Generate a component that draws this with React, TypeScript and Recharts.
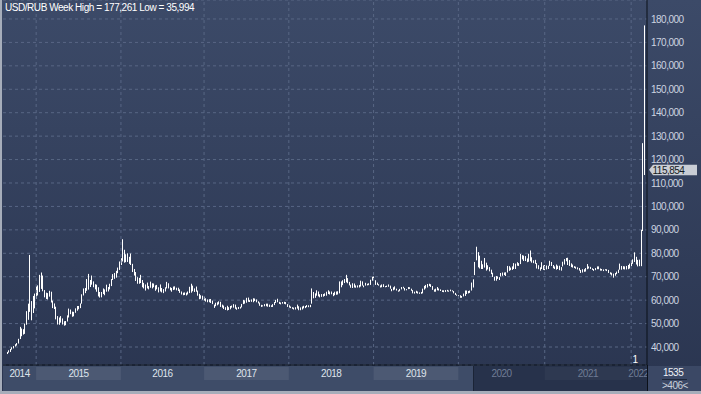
import { Bar, BarChart, CartesianGrid, ReferenceLine, XAxis, YAxis } from "recharts";

// weekly USD/RUB bars as [low, high], one array per calendar year
const w2014 = [
  [37.0, 37.9], [37.6, 38.6], [37.9, 39.2], [38.9, 39.9], [39.4, 40.4], [40.2, 41.2], [40.6, 41.7], [41.5, 43.5],
  [43.4, 48.6], [44.6, 47.9], [45.3, 47.6], [45.6, 50.0], [49.5, 55.3], [51.6, 58.5], [55.0, 79.3], [51.4, 59.6],
  [54.5, 61.8],
];
const w2015 = [
  [56.5, 62.8], [60.5, 66.0], [62.0, 66.3], [63.5, 70.8], [64.8, 71.8], [63.8, 70.5], [61.2, 64.3], [60.5, 63.2],
  [60.3, 63.0], [61.5, 64.0], [59.0, 63.6], [56.6, 59.8], [56.2, 58.6], [51.8, 57.2], [49.6, 53.2], [49.5, 52.6],
  [50.4, 53.2], [49.6, 52.2], [49.1, 51.0], [49.3, 51.1], [50.9, 53.5], [52.6, 56.4], [54.0, 56.0], [52.9, 55.1],
  [53.1, 55.0], [54.6, 56.5], [55.5, 57.5], [56.1, 57.5], [56.6, 58.6], [58.5, 62.5], [62.0, 65.0], [63.0, 65.2],
  [64.0, 69.0], [64.5, 71.2], [65.6, 68.6], [66.6, 70.5], [65.5, 68.0], [64.6, 66.8], [63.6, 66.6], [61.6, 65.5],
  [61.1, 63.5], [61.2, 63.5], [62.6, 65.0], [62.1, 64.6], [63.6, 66.6], [63.7, 65.6], [64.6, 67.0], [66.0, 69.0],
  [68.6, 71.1], [69.1, 71.6], [69.6, 72.5], [71.5, 73.9],
];
const w2016 = [
  [72.9, 76.5], [75.0, 77.9], [76.5, 86.0], [76.0, 81.5], [76.2, 79.6], [76.3, 80.0], [75.5, 78.5], [75.0, 79.9],
  [72.0, 75.5], [70.5, 73.3], [68.2, 72.0], [67.0, 69.8], [67.0, 69.5], [67.3, 70.8], [65.5, 68.6], [65.0, 67.4],
  [64.1, 66.7], [65.0, 67.5], [64.6, 66.0], [65.3, 67.9], [65.0, 67.2], [65.5, 67.1], [64.0, 66.3], [64.6, 66.5],
  [63.3, 65.5], [63.7, 66.7], [63.3, 65.2], [63.0, 64.7], [63.7, 65.5], [65.0, 67.8], [65.0, 67.2], [64.2, 65.5],
  [63.6, 65.2], [64.3, 65.8], [64.5, 65.9], [64.2, 65.3], [63.9, 65.3], [63.1, 64.6], [62.4, 63.7], [62.1, 63.2],
  [62.2, 63.3], [62.0, 63.2], [62.4, 63.7], [63.0, 65.7], [63.2, 67.0], [63.8, 66.2], [63.5, 65.0], [63.6, 65.8],
  [61.9, 64.1], [60.4, 62.7], [60.6, 62.1], [60.2, 61.9],
];
const w2017 = [
  [59.8, 61.5], [59.4, 60.8], [59.1, 60.3], [59.1, 60.4], [58.8, 60.5], [58.3, 59.8], [56.7, 58.1], [57.4, 58.9],
  [57.8, 59.1], [58.2, 59.5], [57.1, 59.3], [56.8, 58.1], [56.2, 57.7], [55.8, 57.0], [55.6, 57.6], [55.8, 57.0],
  [56.1, 57.5], [56.8, 57.7], [56.8, 58.3], [56.3, 58.1], [55.9, 56.9], [56.2, 57.1], [56.4, 57.2], [56.9, 58.4],
  [58.3, 60.1], [58.5, 59.9], [58.9, 61.0], [59.3, 61.1], [59.2, 60.0], [59.3, 60.3], [59.1, 60.8], [59.6, 60.7],
  [59.1, 60.3], [58.6, 59.5], [57.6, 59.0], [57.1, 58.0], [57.3, 57.8], [57.4, 58.3], [57.4, 58.5], [57.2, 58.5],
  [57.1, 58.1], [57.1, 57.8], [57.1, 58.3], [57.9, 59.2], [58.8, 60.1], [59.1, 60.6], [58.4, 59.3], [58.2, 59.0],
  [58.5, 59.2], [58.4, 59.3], [58.2, 59.2], [57.1, 58.3],
];
const w2018 = [
  [56.8, 57.8], [56.6, 57.3], [56.3, 57.0], [56.0, 56.8], [56.0, 57.0], [56.4, 58.1], [55.7, 57.4], [55.7, 56.9],
  [56.0, 57.3], [56.5, 57.6], [56.6, 57.5], [57.0, 57.9], [57.0, 57.8], [57.0, 58.0], [58.5, 65.0], [60.8, 63.5],
  [61.0, 62.9], [61.9, 64.2], [61.6, 63.7], [61.2, 62.5], [61.4, 62.6], [61.5, 62.6], [61.8, 62.9], [61.9, 63.6],
  [62.6, 64.2], [62.4, 63.7], [62.5, 63.7], [61.7, 63.1], [62.1, 63.6], [62.3, 63.7], [62.4, 63.8], [62.9, 68.0],
  [65.5, 68.0], [66.4, 68.5], [67.3, 69.0], [67.6, 70.8], [67.2, 69.4], [66.3, 67.8], [65.3, 66.6], [65.2, 67.2],
  [65.4, 67.1], [65.3, 66.3], [65.4, 66.3], [65.4, 66.5], [65.8, 68.3], [66.2, 68.0], [65.5, 66.3], [66.2, 67.4],
  [66.3, 67.0], [66.4, 67.2], [66.5, 68.7], [68.3, 70.0], [68.5, 70.1],
];
const w2019 = [
  [66.5, 68.5], [66.5, 67.5], [66.2, 66.8], [65.4, 66.3], [65.5, 66.7], [65.6, 66.8], [65.5, 66.0], [65.6, 66.2],
  [65.7, 66.7], [64.9, 66.2], [63.8, 64.8], [64.2, 65.5], [64.5, 65.9], [64.1, 64.9], [63.6, 64.2], [63.8, 64.8],
  [64.6, 65.6], [65.0, 65.7], [64.1, 65.2], [64.2, 64.7], [64.7, 65.6], [64.8, 65.5], [64.0, 64.9], [62.9, 64.3],
  [62.8, 63.6], [63.0, 64.0], [62.8, 63.7], [62.7, 63.3], [62.7, 63.5], [62.9, 64.9], [64.5, 66.1], [65.0, 66.5],
  [65.4, 66.9], [66.0, 67.0], [65.6, 66.8], [64.4, 66.0], [63.6, 64.6], [63.6, 64.9], [64.2, 65.6], [64.1, 65.0],
  [63.9, 64.6], [63.5, 64.2], [63.4, 64.2], [63.5, 64.3], [63.7, 64.4], [63.6, 64.1], [63.8, 64.5], [63.7, 64.2],
  [62.9, 63.9], [62.2, 63.1], [61.9, 62.4], [61.7, 62.1],
];
const w2020 = [
  [61.0, 62.1], [61.0, 61.8], [61.6, 62.8], [61.8, 64.1], [62.6, 64.1], [62.9, 63.9], [63.1, 64.1], [64.1, 67.5],
  [65.4, 68.9], [70.7, 76.3], [77.0, 82.8], [74.0, 80.5], [73.5, 79.0], [73.3, 76.8], [73.3, 75.3], [73.9, 78.0],
  [72.6, 76.0], [73.1, 74.9], [72.3, 74.1], [71.1, 73.0], [69.9, 71.7], [68.3, 70.0], [68.3, 70.3], [69.1, 70.1],
  [68.6, 69.8], [70.1, 71.6], [70.4, 71.8], [70.7, 71.8], [70.3, 71.9], [71.8, 74.6], [72.5, 74.5], [72.8, 73.9],
  [72.9, 74.4], [73.3, 75.8], [73.3, 75.6], [74.7, 76.2], [74.6, 75.8], [75.4, 79.7], [77.4, 79.2], [76.7, 79.0],
  [76.7, 78.8], [76.2, 77.8], [76.4, 79.8], [76.6, 81.2], [76.0, 78.3], [75.8, 77.0], [75.5, 77.2], [73.5, 75.8],
  [73.2, 74.9], [72.6, 74.0], [73.3, 76.2], [72.9, 74.8],
];
const w2021 = [
  [72.8, 75.0], [73.1, 74.8], [73.3, 74.7], [74.6, 76.8], [74.6, 76.3], [73.6, 75.0], [73.3, 74.4], [73.0, 75.2],
  [73.3, 74.7], [72.8, 74.7], [72.6, 74.1], [74.4, 76.4], [75.2, 77.5], [76.6, 78.0], [75.0, 78.1], [74.6, 77.1],
  [74.1, 75.7], [73.9, 75.2], [73.7, 74.5], [73.4, 74.3], [73.1, 74.0], [72.6, 73.7], [71.6, 72.9], [71.8, 73.2],
  [72.1, 73.2], [72.2, 73.7], [73.2, 75.4], [73.5, 74.4], [73.3, 74.2], [72.9, 73.6], [72.5, 73.3], [72.8, 73.7],
  [73.2, 74.4], [73.2, 74.4], [72.6, 73.5], [72.6, 73.3], [72.4, 73.1], [72.7, 73.2], [72.4, 73.2], [71.6, 72.9],
  [71.0, 71.9], [70.5, 71.7], [69.6, 71.3], [70.4, 71.6], [71.1, 72.2], [71.6, 73.0], [73.0, 75.6], [73.0, 74.6],
  [73.2, 74.5], [73.1, 74.4], [73.1, 74.6], [73.2, 75.0],
];
const w2022 = [
  [73.5, 75.6], [74.5, 77.0], [75.5, 77.4], [76.3, 80.4], [75.2, 78.5], [74.4, 77.2], [74.5, 77.3], [74.5, 90.0],
  [89.5, 127.0], [113.4, 177.26],
];

const years = ["2014", "2015", "2016", "2017", "2018", "2019", "2020", "2021", "2022"];
// bar index where each calendar year starts on the time axis
const yearStart = [0, 18, 70, 121, 173, 225, 277, 330, 383];
const priceTicks = [40, 50, 60, 70, 80, 90, 100, 110, 120, 130, 140, 150, 160, 170, 180];
const priceDomain = [32.32, 188.1];
const lastPrice = 115.854;
const weekHigh = 177.261;
const weekLow = 35.994;
const totalBars = 1535;
const visibleBars = 406;
const viewFrom = 286; // first bar of the darker (scrolled) part of the time strip

const W = 701;
const H = 394;
const AXIS_W = 54;
const PLOT_L = 3;
const PAD_L = 3;
const PAD_R = 2;
const font = '"Liberation Sans", Arial, sans-serif';

const bars = [...w2014, ...w2015, ...w2016, ...w2017, ...w2018, ...w2019, ...w2020, ...w2021, ...w2022]
  .map(([lo, hi], i) => ({ i, range: [lo, hi] }));

const step = (W - AXIS_W - PLOT_L - PAD_L - PAD_R) / bars.length;
const viewX = PLOT_L + PAD_L + step * (viewFrom + 0.5);

const fmt = (v: number) => v.toFixed(3).replace(".", ",");

function Stick(props: any) {
  const { x, y, width, height } = props;
  if (x == null || height == null) return null;
  const top = Math.min(y, y + height);
  return <rect x={Math.round(x + width / 2 - 0.5)} y={top} width={1} height={Math.max(Math.abs(height), 1)} fill="#ffffff" />;
}

function PriceTick({ x, y, payload }: any) {
  return (
    <text x={x} y={y + 3.6} fontSize={10} fontFamily={font} letterSpacing={-0.5} fill="#cdd4e0" textAnchor="start">
      {fmt(payload.value)}
    </text>
  );
}

function YearTick({ x, y, payload }: any) {
  const k = yearStart.indexOf(payload.value);
  const next = yearStart[k + 1] ?? bars.length;
  const x0 = k === 0 ? PLOT_L : x;
  const x1 = x + (next - payload.value) * step;
  const mid = (x0 + x1) / 2;
  const dim = mid > viewX;
  return (
    <g>
      {k % 2 === 1 && (
        <rect x={x0} y={y + 2} width={x1 - x0} height={13} fill="#ffffff" fillOpacity={dim ? 0.035 : 0.075} />
      )}
      <text x={mid} y={y + 12} textAnchor="middle" fontSize={10} fontFamily={font} letterSpacing={-0.5}
        fill={dim ? "#6f7c95" : "#dfe4ec"}>
        {years[k]}
      </text>
    </g>
  );
}

function PriceTag({ viewBox }: any) {
  if (!viewBox) return null;
  const r = viewBox.x + viewBox.width;
  const y = viewBox.y;
  return (
    <g>
      <polygon
        points={`${r + 2},${y + 0.5} ${r + 6},${y - 4.5} ${r + 50},${y - 4.5} ${r + 50},${y + 6} ${r + 6},${y + 6}`}
        fill="#c9cdd5"
      />
      <text x={r + 5.5} y={y + 4.5} fontSize={10} fontFamily={font} letterSpacing={-0.5} fill="#151a22">
        {fmt(lastPrice)}
      </text>
    </g>
  );
}

const txt = { position: "absolute" as const, fontFamily: font, fontSize: 10, lineHeight: "12px", letterSpacing: -0.5, whiteSpace: "nowrap" as const };

export default function App() {
  return (
    <div style={{ position: "absolute", left: 0, top: 0, width: W, height: H, overflow: "hidden",
      background: "linear-gradient(#3c4a68, #2a3550)" }}>
      <div style={{ position: "absolute", left: PLOT_L, top: 366, width: W - AXIS_W - PLOT_L, height: 25, background: "#3e4c68" }} />
      <div style={{ position: "absolute", left: viewX, top: 366, width: W - AXIS_W - viewX, height: 25,
        background: "#27324b", borderLeft: "1px solid #1b2436" }} />
      <div style={{ position: "absolute", left: 0, top: 0 }}>
        <BarChart width={W} height={H} data={bars} margin={{ top: 0, right: 0, left: PLOT_L, bottom: 3 }} barCategoryGap={0}>
          <CartesianGrid vertical={false} stroke="#586684" strokeDasharray="3 3" />
          <XAxis dataKey="i" height={26} ticks={yearStart} interval={0} tickSize={0} tickMargin={0} tickLine={false}
            axisLine={{ stroke: "#0b1019" }} padding={{ left: PAD_L, right: PAD_R }} tick={<YearTick />} />
          <YAxis orientation="right" width={AXIS_W} domain={priceDomain} allowDataOverflow ticks={priceTicks}
            interval={0} tickSize={0} tickMargin={4} tickLine={false} axisLine={{ stroke: "#0b1019" }} tick={<PriceTick />} />
          {yearStart.slice(1).map((s) => (
            <ReferenceLine key={s} x={s} stroke="#586684" strokeDasharray="3 3" />
          ))}
          <Bar dataKey="range" shape={<Stick />} isAnimationActive={false} />
          <ReferenceLine y={lastPrice} stroke="none" label={(p: any) => <PriceTag {...p} />} />
        </BarChart>
      </div>
      <div style={{ position: "absolute", left: 0, top: 0, width: 2, height: H, background: "#a6adba" }} />
      <div style={{ position: "absolute", left: 0, top: 391, width: W, height: 3, background: "#a6adba" }} />
      <div style={{ position: "absolute", left: W - AXIS_W, top: 365, width: 1, height: 26, background: "#0b1019" }} />
      <div style={{ position: "absolute", left: W - AXIS_W + 1, top: 366, width: AXIS_W - 1, height: 25, background: "#3b4865" }} />
      <div style={{ position: "absolute", left: 662, top: 379, width: 25, height: 1, background: "#1e2739" }} />
      <div style={{ ...txt, left: 663, top: 367, width: 20, textAlign: "center", color: "#eef1f6" }}>{totalBars}</div>
      <div style={{ ...txt, left: 662, top: 379.5, width: 24, textAlign: "center", color: "#c9d0dc" }}>{`>${visibleBars}<`}</div>
      <div style={{ ...txt, left: 632.5, top: 354, color: "#ffffff" }}>1</div>
      <div style={{ ...txt, left: 5, top: 1.5, color: "#ffffff", letterSpacing: -0.45 }}>
        {`USD/RUB Week High = ${fmt(weekHigh)} Low = ${fmt(weekLow)}`}
      </div>
    </div>
  );
}
